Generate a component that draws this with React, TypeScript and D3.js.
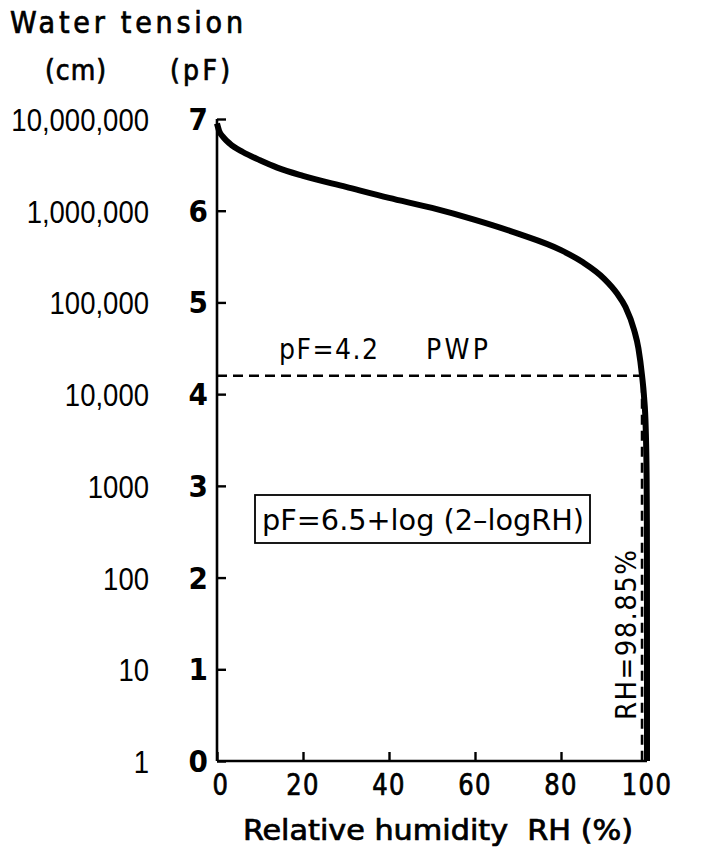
import * as d3 from 'd3';
import { useEffect, useRef } from 'react';

// values
const rhValues = [0, 0.5, 1.5, 3, 6, 10, 14, 20, 30, 40, 50, 60, 70, 80, 85, 90, 93, 95, 97, 98, 98.85, 99.3, 99.7, 99.9, 99.97, 99.99, 99.999, 100];
const pfValues = [6.95, 6.87, 6.8, 6.73, 6.64, 6.55, 6.47, 6.38, 6.26, 6.14, 6.03, 5.9, 5.75, 5.57, 5.44, 5.26, 5.1, 4.95, 4.7, 4.5, 4.2, 3.98, 3.63, 3.14, 2.62, 2.14, 1.14, 0];
const pfTicks = [0, 1, 2, 3, 4, 5, 6, 7];
const cmLabels = ['1', '10', '100', '1000', '10,000', '100,000', '1,000,000', '10,000,000'];
const rhTicks = [0, 20, 40, 60, 80, 100];
const pwpValue = 4.2;
const pwpRH = 98.85;

const W = 708;
const H = 851;
const TECH = "'DejaVu Sans Condensed', 'DejaVu Sans', sans-serif";
const SANS = "'Liberation Sans', Arial, sans-serif";

const App = () => {
  const ref = useRef<SVGSVGElement>(null);

  useEffect(() => {
    const svg = d3.select(ref.current);
    svg.selectAll('*').remove();

    const x = d3.scaleLinear().domain([0, 100]).range([217, 647]);
    const y = d3.scaleLinear().domain([0, 7]).range([761, 119]);

    svg.append('rect').attr('width', W).attr('height', H).attr('fill', '#fff');

    const heavy = (sel: any) => sel.attr('stroke', '#000').attr('stroke-width', 0.7).attr('fill', '#000');

    // Title
    svg.append('text').attr('x', 10).attr('y', 33)
      .attr('font-family', TECH).attr('font-size', 30)
      .attr('textLength', 233).attr('lengthAdjust', 'spacing')
      .call(heavy).text('Water tension');
    svg.append('text').attr('x', 45).attr('y', 80)
      .attr('font-family', TECH).attr('font-size', 28)
      .attr('textLength', 61).attr('lengthAdjust', 'spacing')
      .call(heavy).text('(cm)');
    svg.append('text').attr('x', 170).attr('y', 80)
      .attr('font-family', TECH).attr('font-size', 28)
      .attr('textLength', 60).attr('lengthAdjust', 'spacing')
      .call(heavy).text('(pF)');

    // Left axis
    const yAxis = svg.append('g').attr('transform', `translate(${x(0)},0)`)
      .call(d3.axisRight(y).tickValues(pfTicks).tickSize(9).tickFormat(() => ''));
    yAxis.select('.domain').attr('stroke', '#000').attr('stroke-width', 2.6).attr('d', `M0,${y(7)}V${y(0)}`);
    yAxis.selectAll('.tick line').attr('stroke', '#000').attr('stroke-width', 2.4);

    // Bottom axis
    const xAxis = svg.append('g').attr('transform', `translate(0,${y(0)})`)
      .call(d3.axisTop(x).tickValues(rhTicks).tickSize(9).tickFormat(() => ''));
    xAxis.select('.domain').attr('stroke', '#000').attr('stroke-width', 2.6).attr('d', `M${x(0)},0H${x(100)}`);
    xAxis.selectAll('.tick line').attr('stroke', '#000').attr('stroke-width', 2.4);

    // pF tick labels
    svg.append('g').selectAll('text').data(pfTicks).enter().append('text')
      .attr('x', x(0) - 9).attr('y', d => y(d) + 11)
      .attr('text-anchor', 'end')
      .attr('font-family', TECH).attr('font-size', 31).attr('font-weight', 'bold')
      .text(d => d);

    // cm tick labels (narrow)
    svg.append('g').selectAll('text').data(cmLabels).enter().append('text')
      .attr('transform', (d, i) => `translate(149,${y(pfTicks[i]) + 12}) scale(0.86,1)`)
      .attr('text-anchor', 'end')
      .attr('font-family', SANS).attr('font-size', 32)
      .text(d => d);

    // RH tick labels
    svg.append('g').selectAll('text').data(rhTicks).enter().append('text')
      .attr('transform', d => `translate(${x(d) + (d === 0 ? 4 : 0)},${y(0) + 34}) scale(0.9,1)`)
      .attr('text-anchor', 'middle')
      .attr('font-family', TECH).attr('font-size', 30)
      .attr('letter-spacing', 1.5)
      .call(heavy)
      .text(d => d);

    svg.append('text').attr('x', 243).attr('y', 840)
      .attr('font-family', TECH).attr('font-size', 29)
      .attr('textLength', 390).attr('lengthAdjust', 'spacingAndGlyphs')
      .attr('xml:space', 'preserve')
      .call(heavy)
      .text('Relative humidity  RH (%)');

    // PWP dashed lines
    svg.append('path')
      .attr('d', `M${x(0)},${y(pwpValue)}H${x(pwpRH)}V${y(0)}`)
      .attr('fill', 'none').attr('stroke', '#000').attr('stroke-width', 2.6)
      .attr('stroke-dasharray', '10,6');

    svg.append('text').attr('x', 279).attr('y', 359)
      .attr('font-family', TECH).attr('font-size', 28)
      .attr('letter-spacing', 1.5)
      .text('pF=4.2');
    svg.append('text').attr('x', 426).attr('y', 359)
      .attr('font-family', TECH).attr('font-size', 28)
      .attr('textLength', 62).attr('lengthAdjust', 'spacing')
      .text('PWP');

    svg.append('text')
      .attr('transform', `translate(${x(pwpRH) - 6},${y(0) - 41}) rotate(-90)`)
      .attr('font-family', TECH).attr('font-size', 29)
      .attr('textLength', 170).attr('lengthAdjust', 'spacing')
      .text('RH=98.85%');

    // Formula box
    svg.append('rect').attr('x', 255).attr('y', 495).attr('width', 335).attr('height', 48)
      .attr('fill', 'none').attr('stroke', '#000').attr('stroke-width', 1.8);
    svg.append('text').attr('x', 262).attr('y', 530)
      .attr('font-family', TECH).attr('font-size', 29)
      .attr('textLength', 322).attr('lengthAdjust', 'spacingAndGlyphs').attr('xml:space', 'preserve')
      .text('pF=6.5+log (2\u2013logRH)');

    // Curve
    const pts = rhValues.map((r, i) => [r, pfValues[i]] as [number, number]);
    const line = d3.line<[number, number]>()
      .x(d => x(d[0]))
      .y(d => y(d[1]))
      .curve(d3.curveMonotoneX);
    svg.append('path').datum(pts)
      .attr('d', line)
      .attr('fill', 'none').attr('stroke', '#000').attr('stroke-width', 6)
      .attr('stroke-linejoin', 'round');
  }, []);

  return (
    <svg ref={ref} width={W} height={H}
      style={{ position: 'absolute', left: 0, top: 0, display: 'block' }}></svg>
  );
};

export default App;
